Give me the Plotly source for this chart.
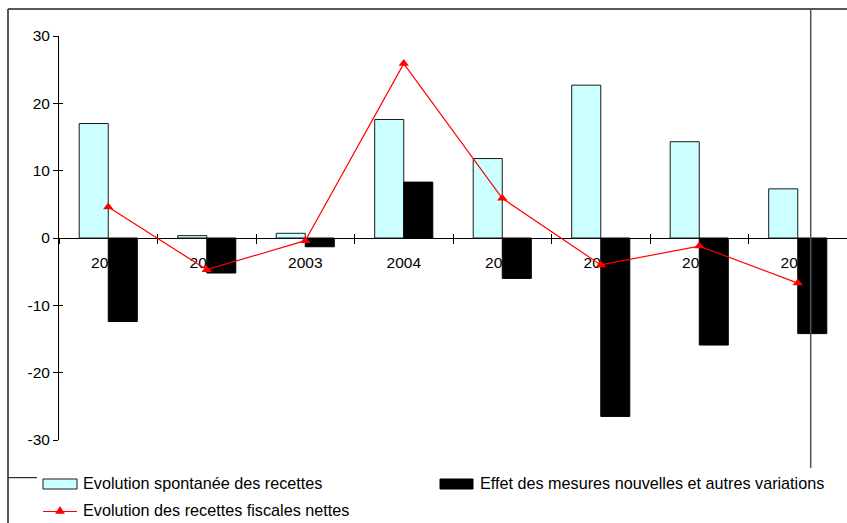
import plotly.graph_objects as go

# Chart data
years = ["2001", "2002", "2003", "2004", "2005", "2006", "2007", "2008"]
spontaneous = [17.0, 0.35, 0.7, 17.6, 11.8, 22.7, 14.3, 7.3]
new_measures = [-12.4, -5.2, -1.3, 8.3, -6.0, -26.5, -15.9, -14.2]
net_revenue = [4.6, -4.7, -0.4, 25.9, 5.9, -4.0, -1.2, -6.7]

y_ticks = [-30, -20, -10, 0, 10, 20, 30]
y_tick_text = [str(v) for v in y_ticks]

legend_labels = [
    "Evolution spontanée des recettes",
    "Effet des mesures nouvelles et autres variations",
    "Evolution des recettes fiscales nettes",
]

W, H = 847, 523
L, R, T, B = 59, 0, 36, 83
PW, PH = W - L - R, H - T - B
FONT = "Liberation Sans, Arial, sans-serif"


def px_x(px):
    return (px - L) / PW


def px_y(py):
    return (H - B - py) / PH


fig = go.Figure()
fig.add_bar(
    x=years, y=spontaneous, name=legend_labels[0],
    marker=dict(color="#CCFFFF", line=dict(color="#1a1a1a", width=1)),
)
fig.add_bar(
    x=years, y=new_measures, name=legend_labels[1],
    marker=dict(color="#000000", line=dict(color="#000000", width=1)),
)
fig.add_scatter(
    x=years, y=net_revenue, name=legend_labels[2], mode="lines+markers",
    line=dict(color="#FF0000", width=1.2),
    marker=dict(symbol="triangle-up", size=9, color="#FF0000"),
)
# empty traces that carry the inward half of the crossing tick marks
fig.add_scatter(x=[], y=[], xaxis="x2", yaxis="y", showlegend=False, hoverinfo="skip")
fig.add_scatter(x=[], y=[], xaxis="x", yaxis="y2", showlegend=False, hoverinfo="skip")

n = len(years)
boundaries = [i - 0.5 for i in range(n + 1)]

fig.update_layout(
    width=W, height=H,
    margin=dict(l=L, r=R, t=T, b=B, pad=0),
    paper_bgcolor="white", plot_bgcolor="white",
    showlegend=False,
    barmode="group", bargap=0.41, bargroupgap=0,
    font=dict(family=FONT, size=15, color="#000000"),
    xaxis=dict(
        type="category", range=[-0.5, n - 0.5],
        anchor="free", position=0.5,
        showline=True, linecolor="#000000", linewidth=1,
        ticks="outside", tickson="boundaries", ticklen=5, tickcolor="#000000",
        ticklabelstandoff=10,
        showgrid=False, zeroline=False, layer="below traces",
        tickfont=dict(family=FONT, size=15.5, color="#000000"),
        fixedrange=True,
    ),
    xaxis2=dict(
        overlaying="x", anchor="free", position=0.5,
        range=[-0.5, n - 0.5], tickmode="array", tickvals=boundaries,
        ticks="inside", ticklen=4, tickcolor="#000000",
        showticklabels=False, showline=False, showgrid=False, zeroline=False,
    ),
    yaxis=dict(
        range=[-30, 30], tickmode="array", tickvals=y_ticks, ticktext=y_tick_text,
        showline=True, linecolor="#000000", linewidth=1,
        ticks="outside", ticklen=5, tickcolor="#000000",
        showgrid=False, zeroline=False,
        tickfont=dict(family=FONT, size=15.5, color="#000000"),
    ),
    yaxis2=dict(
        overlaying="y", anchor="x", side="left",
        range=[-30, 30], tickmode="array", tickvals=y_ticks,
        ticks="inside", ticklen=4, tickcolor="#000000",
        showticklabels=False, showline=False, showgrid=False, zeroline=False,
    ),
)

shapes = [
    # outer frame pieces
    dict(type="line", xref="paper", yref="paper", x0=px_x(8), x1=px_x(W), y0=px_y(9), y1=px_y(9),
         line=dict(color="#222222", width=1.5)),
    dict(type="line", xref="paper", yref="paper", x0=px_x(8), x1=px_x(8), y0=px_y(9), y1=px_y(H),
         line=dict(color="#222222", width=1.5)),
    dict(type="line", xref="paper", yref="paper", x0=px_x(810.7), x1=px_x(810.7), y0=px_y(9), y1=px_y(468),
         line=dict(color="#555555", width=1.5)),
    dict(type="line", xref="paper", yref="paper", x0=px_x(8), x1=px_x(37), y0=px_y(477.7), y1=px_y(477.7),
         line=dict(color="#000000", width=1)),
    # legend keys
    dict(type="rect", xref="paper", yref="paper", x0=px_x(43), x1=px_x(77), y0=px_y(489), y1=px_y(479),
         fillcolor="#CCFFFF", line=dict(color="#1a1a1a", width=1)),
    dict(type="rect", xref="paper", yref="paper", x0=px_x(440), x1=px_x(473), y0=px_y(489), y1=px_y(479),
         fillcolor="#000000", line=dict(color="#000000", width=1)),
    dict(type="line", xref="paper", yref="paper", x0=px_x(43), x1=px_x(77), y0=px_y(511.5), y1=px_y(511.5),
         line=dict(color="#FF0000", width=1.2)),
    dict(type="path", xref="paper", yref="paper",
         path=f"M {px_x(60)},{px_y(506.5)} L {px_x(55.5)},{px_y(513.5)} L {px_x(64.5)},{px_y(513.5)} Z",
         fillcolor="#FF0000", line=dict(color="#FF0000", width=0.5)),
]
fig.update_layout(shapes=shapes)

legend_pos = [(81, 483), (478, 483), (81, 510)]
for text, (lx, ly) in zip(legend_labels, legend_pos):
    fig.add_annotation(
        x=px_x(lx), y=px_y(ly), xref="paper", yref="paper",
        xanchor="left", yanchor="middle", showarrow=False,
        text=text, font=dict(family=FONT, size=16.2, color="#000000"),
    )

fig.write_html("out.html")
